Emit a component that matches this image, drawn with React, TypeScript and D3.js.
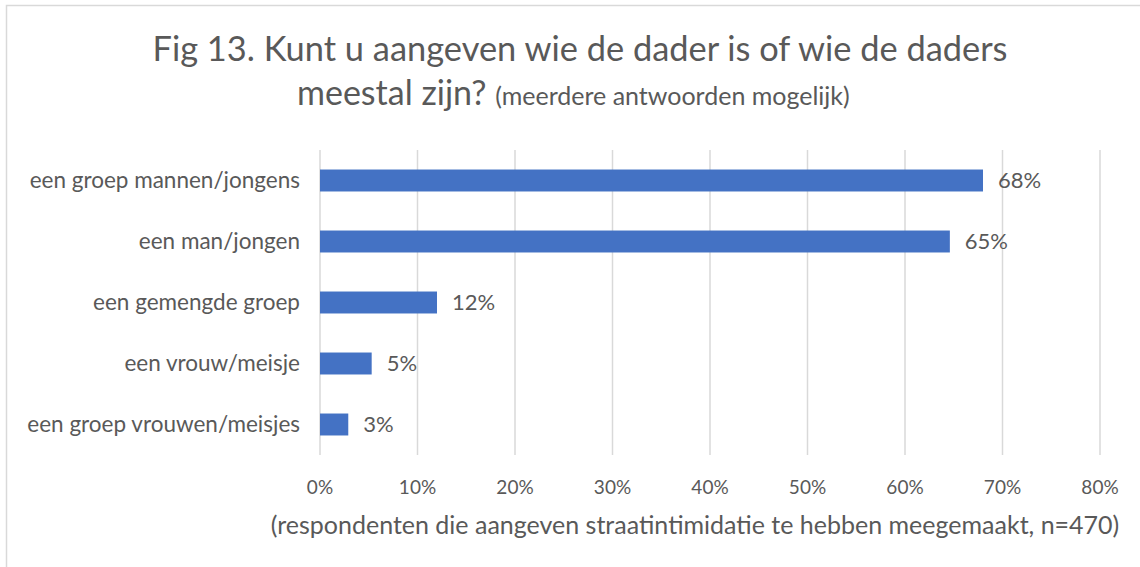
import React from "react";
import * as d3 from "d3";

const categories = [
  "een groep mannen/jongens",
  "een man/jongen",
  "een gemengde groep",
  "een vrouw/meisje",
  "een groep vrouwen/meisjes",
];
const values = [68, 64.6, 12, 5.3, 2.9];
const valueLabels = ["68%", "65%", "12%", "5%", "3%"];
const ticks = [0, 10, 20, 30, 40, 50, 60, 70, 80];

const W = 1140;
const H = 567;
const FONT = "Lato, 'Open Sans', sans-serif";
const TEXT = "#595959";

export default function App() {
  const x = d3.scaleLinear().domain([0, 80]).range([320, 1100]);
  const y = d3.scaleBand().domain(categories).range([150, 455]).paddingInner(0.64).paddingOuter(0.32);
  return (
    <svg width={W} height={H} style={{ position: "absolute", left: 0, top: 0, background: "#fff" }}>
      <rect x={6.5} y={5.5} width={W + 10} height={H + 10} fill="#fff" stroke="#d9d9d9" strokeWidth={1.5} />
      <text x={580} y={61} textAnchor="middle" fontFamily={FONT} fontSize={34} fill={TEXT} textLength={855} lengthAdjust="spacingAndGlyphs">
        Fig 13. Kunt u aangeven wie de dader is of wie de daders
      </text>
      <text x={297} y={105} fontFamily={FONT} fill={TEXT}>
        <tspan fontSize={34}>meestal zijn? </tspan>
        <tspan fontSize={25}>(meerdere antwoorden mogelijk)</tspan>
      </text>
      {ticks.map((t) => (
        <line key={t} x1={x(t)} x2={x(t)} y1={150} y2={455} stroke="#d9d9d9" strokeWidth={1.5} />
      ))}
      {categories.map((c, i) => (
        <g key={c}>
          <rect x={x(0)} y={y(c)!} width={x(values[i]) - x(0)} height={y.bandwidth()} fill="#4472c4" />
          <text x={300} y={y(c)! + y.bandwidth() / 2} dy="0.35em" textAnchor="end" fontFamily={FONT} fontSize={22.5} fill={TEXT}>
            {c}
          </text>
          <text x={x(values[i]) + 15} y={y(c)! + y.bandwidth() / 2} dy="0.35em" fontFamily={FONT} fontSize={22} fill={TEXT}>
            {valueLabels[i]}
          </text>
        </g>
      ))}
      {ticks.map((t) => (
        <text key={"l" + t} x={x(t)} y={487} dy="0.35em" textAnchor="middle" fontFamily={FONT} fontSize={19} fill={TEXT}>
          {t}%
        </text>
      ))}
      <text x={695} y={525} dy="0.35em" textAnchor="middle" fontFamily={FONT} fontSize={25} fill={TEXT}>
        (respondenten die aangeven straatintimidatie te hebben meegemaakt, n=470)
      </text>
    </svg>
  );
}
